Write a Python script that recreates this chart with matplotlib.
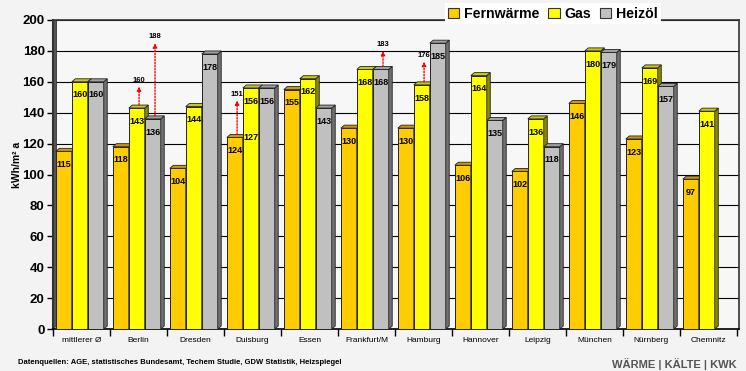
import numpy as np
import matplotlib.pyplot as plt
from matplotlib.patches import Polygon, Patch

plt.rcParams['font.family'] = ['Liberation Sans', 'DejaVu Sans']

cities = ['mittlerer Ø', 'Berlin', 'Dresden', 'Duisburg', 'Essen', 'Frankfurt/M',
          'Hamburg', 'Hannover', 'Leipzig', 'München', 'Nürnberg', 'Chemnitz']
series = ['Fernwärme', 'Gas', 'Heizöl']
fernwaerme = [115, 118, 104, 124, 155, 130, 130, 106, 102, 146, 123, 97]
gas = [160, 143, 144, 156, 162, 168, 158, 164, 136, 180, 169, 141]
heizoel = [160, 136, 178, 156, 143, 168, 185, 135, 118, 179, 157, np.nan]

# red dotted arrows: (city index, series index, value at the arrow tip)
arrows = [(1, 1, 160), (1, 2, 188), (3, 0, 151), (5, 2, 183), (6, 1, 176)]
# extra value printed on a bar
extra_labels = [(3, 1, 127)]

front = ['#FFCC00', '#FFFF00', '#C0C0C0']
top = ['#CC9900', '#CCCC00', '#A0A0A0']
side = ['#8C7000', '#8C8C00', '#707070']

W, H = 746, 371
fig = plt.figure(figsize=(W / 100, H / 100), dpi=100, facecolor='#f3f3f3')
ax = fig.add_axes([53 / W, 1 - 329 / H, (739 - 53) / W, (329 - 20) / H])
ax.set_facecolor('#f7f7f7')

n = len(cities)
ax.set_xlim(-0.5, n - 0.5 + 2 / 57)
ax.set_ylim(0, 200)

# depth of the 3D look, in data units
dx = 3.5 / 57
dy = 3 / 1.545
bw = 0.28
x = np.arange(n)
data = [fernwaerme, gas, heizoel]

ax.set_yticks(np.arange(0, 201, 20))
ax.yaxis.grid(True, color='black', lw=0.8)
ax.set_axisbelow(True)

# left wall
ax.add_patch(Polygon([(-0.5, 0), (-0.5 + dx, dy), (-0.5 + dx, 200), (-0.5, 200)],
                     closed=True, fc='#555555', ec='#333333', lw=0.6, zorder=2))

z = 3
for c in range(n):
    for s in range(3):
        h = data[s][c]
        if np.isnan(h):
            continue
        x0 = c + (s - 1) * bw - 0.03 - bw / 2
        x1 = x0 + bw
        ax.bar(x0, h, width=bw, align='edge', color=front[s], edgecolor='#222222',
               lw=0.7, zorder=z)
        ax.add_patch(Polygon([(x1, 0), (x1 + dx, dy), (x1 + dx, h + dy), (x1, h)],
                             closed=True, fc=side[s], ec='#222222', lw=0.6, zorder=z))
        ax.add_patch(Polygon([(x0, h), (x0 + dx, h + dy), (x1 + dx, h + dy), (x1, h)],
                             closed=True, fc=top[s], ec='#222222', lw=0.6, zorder=z))
        ax.text((x0 + x1) / 2, h - 8.5, f'{h:.0f}', ha='center', va='center',
                fontsize=6.5, fontweight='bold', zorder=z + 1)
        z += 1

for c, s, v in arrows:
    xa = c + (s - 1) * bw - 0.03 + 0.04
    h = data[s][c]
    ax.annotate('', xy=(xa, v - 3), xytext=(xa, h + 2),
                arrowprops=dict(arrowstyle='-|>', color='red', lw=1.0,
                                linestyle=(0, (1, 1.2)), mutation_scale=6,
                                shrinkA=0, shrinkB=0), zorder=100)
    ax.text(xa, v + 1, f'{v}', ha='center', va='center', fontsize=5.5,
            fontweight='bold', zorder=101)

for c, s, v in extra_labels:
    xe = c + (s - 1) * bw - 0.03
    ax.text(xe, v - 3, f'{v}', ha='center', va='center', fontsize=6.5,
            fontweight='bold', zorder=101)

# axes styling
for sp in ['top', 'right']:
    ax.spines[sp].set_color('#333333')
    ax.spines[sp].set_linewidth(1.2)
ax.spines['left'].set_color('#333333')
ax.spines['left'].set_linewidth(1.5)
ax.spines['bottom'].set_color('black')
ax.spines['bottom'].set_linewidth(1.2)

ax.tick_params(axis='y', direction='out', length=4, width=1, labelsize=9.5, pad=2)
for lab in ax.get_yticklabels():
    lab.set_fontweight('bold')
ax.set_xticks(x)
ax.set_xticklabels(cities, fontsize=6)
ax.set_xticks(np.arange(-0.5, n, 1), minor=True)
ax.tick_params(axis='x', which='major', length=0, pad=6)
ax.tick_params(axis='x', which='minor', direction='out', length=5, width=1)

fig.text(17 / W, 1 - 165 / H, 'kWh/m² a', rotation=90, ha='center', va='center',
         fontsize=7.5, fontweight='bold')

handles = [Patch(facecolor=front[i], edgecolor='#333333', lw=0.8) for i in range(3)]
leg = fig.legend(handles, series, loc='upper center', bbox_to_anchor=(553 / W, 1.01),
                 ncol=3, frameon=True, fancybox=False, framealpha=1, edgecolor='none',
                 facecolor='white', handlelength=0.8, handleheight=0.8,
                 handletextpad=0.35, columnspacing=0.6, borderpad=0.25,
                 prop={'weight': 'bold', 'size': 10.2})

fig.text(18 / W, 1 - 363 / H,
         'Datenquellen: AGE, statistisches Bundesamt, Techem Studie, GDW Statistik, Heizspiegel',
         fontsize=5.5, fontweight='bold', va='center', ha='left')
fig.text(674 / W, 1 - 358 / H, 'WÄRME | KÄLTE | KWK', fontsize=8, fontweight='bold',
         color='#555555', ha='center', va='top')

fig.savefig('out.png', dpi=100, facecolor=fig.get_facecolor())
